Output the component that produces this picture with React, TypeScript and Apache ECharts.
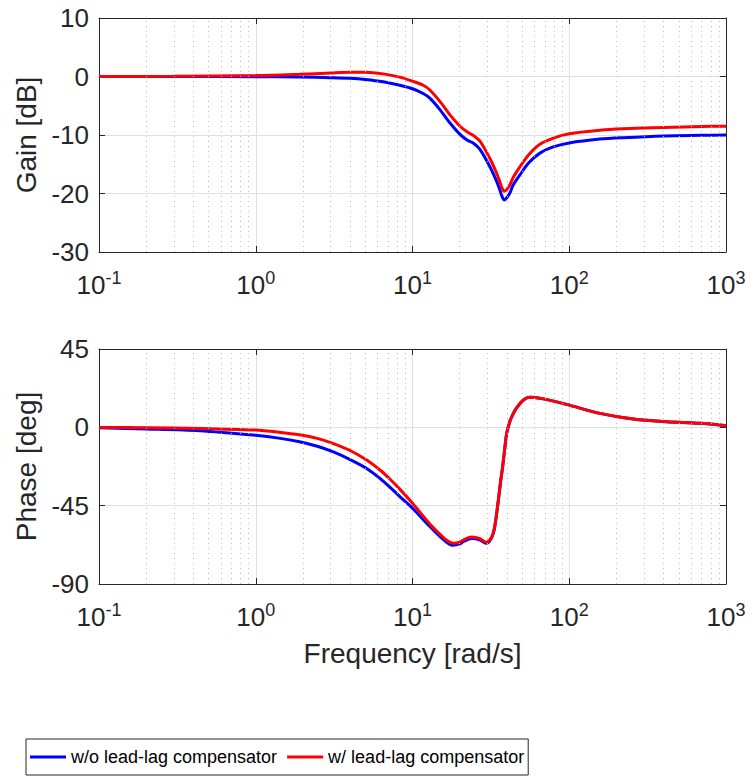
import React, { useEffect, useRef } from "react";
import * as echarts from "echarts";

const SERIES_NAMES = ["w/o lead-lag compensator", "w/ lead-lag compensator"];
const X_TICK_EXPONENTS = ["-1", "0", "1", "2", "3"];
const MINOR_FREQS = [
  0.2, 0.3, 0.4, 0.5, 0.6, 0.7, 0.8, 0.9,
  2, 3, 4, 5, 6, 7, 8, 9,
  20, 30, 40, 50, 60, 70, 80, 90,
  200, 300, 400, 500, 600, 700, 800, 900,
];

const gainFreq = [0.1, 0.3, 1, 1.9, 3, 4, 5, 6.5, 8.3, 10, 11.7, 12.9, 15, 17.4, 20.1, 22.4, 24.5, 27, 31, 34, 36, 37, 38.5, 40, 42, 43.8, 48.5, 55, 65, 80, 100, 157, 220, 400, 700, 1000];
const gainBlue = [0, 0, -0.03, -0.1, -0.2, -0.3, -0.5, -0.9, -1.5, -2.1, -2.9, -3.7, -5.7, -8.0, -9.9, -10.9, -11.4, -12.5, -15.3, -17.6, -19.3, -20.3, -21.1, -20.7, -19.8, -18.6, -16.8, -14.8, -13.1, -12.0, -11.35, -10.7, -10.45, -10.15, -10.05, -10.0];
const gainRed = [0, 0.03, 0.15, 0.38, 0.6, 0.72, 0.72, 0.45, -0.1, -0.8, -1.5, -2.3, -4.3, -6.6, -8.5, -9.5, -10.1, -11.1, -13.9, -16.2, -17.9, -18.9, -19.6, -19.3, -18.4, -17.3, -15.4, -13.4, -11.6, -10.5, -9.8, -9.2, -8.95, -8.7, -8.55, -8.5];

const phaseFreq = [0.1, 0.2, 0.44, 1, 1.4, 1.9, 2.5, 3.1, 4, 5.1, 6.2, 7.2, 8.3, 10, 12.9, 15, 16.5, 18.2, 20, 21.1, 23.8, 27, 29.4, 31, 32.8, 34, 35.3, 36.5, 37.6, 38.8, 39.9, 41.5, 43, 46, 51, 56, 60.4, 70, 96, 157, 256, 418, 683, 1000];
const phaseBlue = [-0.3, -0.9, -1.9, -4.6, -6.2, -8.3, -11, -14, -18.5, -23.6, -29.3, -34.5, -39.8, -46.5, -57, -62.8, -66, -67.8, -67, -65.7, -63.8, -64.7, -66.6, -65.5, -60.9, -53, -41.8, -31, -22.6, -12, -3.4, 2.5, 6.1, 11, 15.7, 17.3, 17.2, 16.2, 13.2, 8.0, 4.8, 3.2, 2.3, 0.9];
const phaseRed = [-0.1, -0.2, -0.6, -1.6, -2.8, -4.3, -6.5, -9.2, -13.3, -18.8, -24.5, -29.8, -35.5, -43.6, -55.5, -61.5, -64.8, -66.6, -66, -64.8, -63, -64, -66, -65, -60.5, -53, -41.8, -31, -22.6, -12, -3.4, 2.5, 6.1, 11, 15.7, 17.3, 17.2, 16.2, 13.2, 8.0, 4.8, 3.2, 2.3, 0.9];

const FONT = "'Liberation Sans', Arial, Helvetica, sans-serif";
const AXIS_COLOR = "#262626";
const GRID_COLOR = "#e0e0e0";
const MINOR_COLOR = "#bcbcbc";
const BLUE = "#0000ff";
const RED = "#ff0000";

function pairs(xs: number[], ys: number[]) {
  return xs.map((x, i) => [x, ys[i]]);
}

export default function App() {
  const ref = useRef<HTMLDivElement>(null);

  useEffect(() => {
    if (!ref.current) return;
    const chart = echarts.init(ref.current, null, { renderer: "svg" });

    const xLabel = {
      margin: 17,
      color: AXIS_COLOR,
      formatter: (v: number) => {
        const idx = Math.round(Math.log10(v)) + 1;
        const e = X_TICK_EXPONENTS[idx] ?? "";
        return `{b|10}{s|${e}}`;
      },
      rich: {
        b: { fontSize: 26, lineHeight: 26, padding: [6, 0, 0, 0], color: AXIS_COLOR, fontFamily: FONT },
        s: { fontSize: 18, lineHeight: 18, verticalAlign: "top", color: AXIS_COLOR, fontFamily: FONT },
      },
    };

    const axisLine = { show: true, onZero: false, lineStyle: { color: AXIS_COLOR, width: 1 } };
    const tick = { show: true, inside: true, length: 6, lineStyle: { color: AXIS_COLOR } };

    const mainX = (gi: number, name?: string) => ({
      gridIndex: gi,
      type: "log",
      logBase: 10,
      min: 0.1,
      max: 1000,
      position: "bottom",
      axisLine,
      axisTick: tick,
      axisLabel: xLabel,
      splitLine: { show: true, lineStyle: { color: GRID_COLOR, width: 1 } },
      name,
      nameLocation: "middle",
      nameGap: 55,
      nameTextStyle: { fontSize: 28, color: AXIS_COLOR, fontFamily: FONT },
    });
    const topX = (gi: number) => ({
      gridIndex: gi,
      type: "log",
      logBase: 10,
      min: 0.1,
      max: 1000,
      position: "top",
      axisLine,
      axisTick: tick,
      axisLabel: { show: false },
      splitLine: { show: false },
    });
    const leftY = (gi: number, min: number, max: number, interval: number, name: string) => ({
      gridIndex: gi,
      type: "value",
      min,
      max,
      interval,
      position: "left",
      axisLine,
      axisTick: tick,
      axisLabel: { fontSize: 26, color: AXIS_COLOR, margin: 10, fontFamily: FONT },
      splitLine: { show: true, lineStyle: { color: GRID_COLOR, width: 1 } },
      name,
      nameLocation: "middle",
      nameGap: 57,
      nameTextStyle: { fontSize: 28, color: AXIS_COLOR, fontFamily: FONT },
    });
    const rightY = (gi: number, min: number, max: number, interval: number) => ({
      gridIndex: gi,
      type: "value",
      min,
      max,
      interval,
      position: "right",
      axisLine,
      axisTick: tick,
      axisLabel: { show: false },
      splitLine: { show: false },
    });

    const minorSeries = (xi: number, yi: number) => ({
      type: "line",
      xAxisIndex: xi,
      yAxisIndex: yi,
      data: [],
      z: 1,
      silent: true,
      markLine: {
        silent: true,
        symbol: ["none", "none"],
        label: { show: false },
        lineStyle: { type: [1, 4], color: MINOR_COLOR, width: 1 },
        emphasis: { disabled: true },
        data: MINOR_FREQS.map((f) => ({ xAxis: f })),
      },
    });

    const curve = (name: string, color: string, xi: number, yi: number, data: number[][]) => ({
      name,
      type: "line",
      xAxisIndex: xi,
      yAxisIndex: yi,
      data,
      showSymbol: false,
      symbol: "none",
      smooth: 0.3,
      z: 3,
      lineStyle: { color, width: 3 },
      itemStyle: { color },
    });

    const option = {
      animation: false,
      textStyle: { fontFamily: FONT },
      grid: [
        { left: 99, top: 18, width: 627, height: 234 },
        { left: 99, top: 349, width: 627, height: 235 },
      ],
      xAxis: [mainX(0), topX(0), mainX(1, "Frequency [rad/s]"), topX(1)],
      yAxis: [
        leftY(0, -30, 10, 10, "Gain [dB]"),
        rightY(0, -30, 10, 10),
        leftY(1, -90, 45, 45, "Phase [deg]"),
        rightY(1, -90, 45, 45),
      ],
      legend: {
        data: SERIES_NAMES,
        left: 26,
        top: 739,
        width: 1000,
        orient: "horizontal",
        padding: [7, 4, 7, 4],
        borderColor: AXIS_COLOR,
        borderWidth: 1,
        borderRadius: 0,
        itemWidth: 36,
        itemHeight: 3,
        itemGap: 10,
        icon: "rect",
        textStyle: {
          fontSize: 18,
          lineHeight: 22,
          color: "#000",
          fontFamily: FONT,
        },
      },
      series: [
        minorSeries(0, 0),
        minorSeries(2, 2),
        curve(SERIES_NAMES[0], BLUE, 0, 0, pairs(gainFreq, gainBlue)),
        curve(SERIES_NAMES[1], RED, 0, 0, pairs(gainFreq, gainRed)),
        curve(SERIES_NAMES[0], BLUE, 2, 2, pairs(phaseFreq, phaseBlue)),
        curve(SERIES_NAMES[1], RED, 2, 2, pairs(phaseFreq, phaseRed)),
      ],
    };

    chart.setOption(option as any);
    return () => chart.dispose();
  }, []);

  return (
    <div
      ref={ref}
      style={{ position: "absolute", left: 0, top: 0, width: 753, height: 776, background: "#fff" }}
    />
  );
}
